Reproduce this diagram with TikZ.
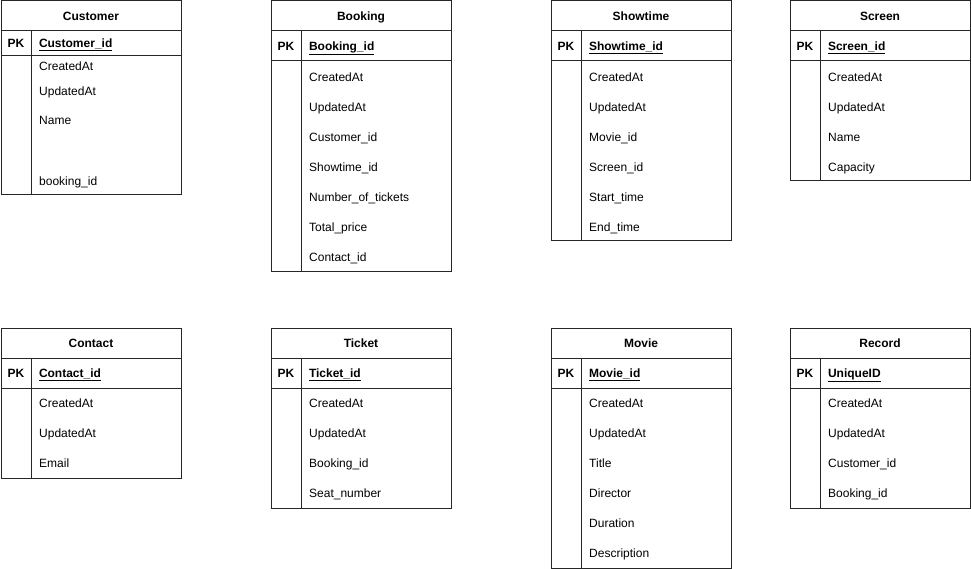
\documentclass[tikz,border=0pt]{standalone}
\usepackage{fontspec}
\setmainfont{Liberation Sans}
\usetikzlibrary{positioning,calc}
\tikzset{
  cell/.style      = {shape=rectangle, draw=black!85, line width=1pt, inner sep=0pt,
                      outer sep=0pt, anchor=north west, text height=8.6pt, text depth=0pt,
                      font=\fontsize{12pt}{14pt}\selectfont},
  tblhead/.style   = {cell, minimum width=180pt, minimum height=30pt,
                      font=\fontsize{12pt}{14pt}\selectfont\bfseries},
  pkcell/.style    = {cell, minimum width=30pt, minimum height=#1,
                      font=\fontsize{12pt}{14pt}\selectfont\bfseries},
  pkcell/.default  = 30pt,
  keycell/.style   = {cell, minimum width=150pt, minimum height=#1, text width=134pt,
                      inner xsep=8pt, align=left,
                      font=\fontsize{12pt}{14pt}\selectfont\bfseries},
  keycell/.default = 30pt,
  sidecell/.style  = {cell, minimum width=30pt},
  bodycell/.style  = {cell, minimum width=150pt},
  field/.style     = {anchor=west, inner sep=0pt, text height=8.6pt, text depth=0pt,
                      font=\fontsize{12pt}{14pt}\selectfont}
}
\begin{document}
\begin{tikzpicture}[x=1pt, y=-1pt]
  \useasboundingbox (0,0) rectangle (971,569);

  % Customer
  \node [tblhead] (cust) at (1,1) {Customer};
  \node [pkcell=25pt] (custpk) at (cust.south west) {PK};
  \node [keycell=25pt] (custkey) at (custpk.north east) {\underline{Customer\_id}};
  \node [sidecell, minimum height=139pt] (custside) at (custpk.south west) {};
  \node [bodycell, minimum height=139pt] (custbody) at (custside.north east) {};
  \node [field] (cust-1) at ($(custbody.north west)+(8,10)$) {CreatedAt};
  \node [field] (cust-2) at ($(custbody.north west)+(8,35)$) {UpdatedAt};
  \node [field] (cust-3) at ($(custbody.north west)+(8,64)$) {Name};
  \node [field] (cust-4) at ($(custbody.north west)+(8,125)$) {booking\_id};

  % Booking
  \node [tblhead] (book) at (271,1) {Booking};
  \node [pkcell] (bookpk) at (book.south west) {PK};
  \node [keycell] (bookkey) at (bookpk.north east) {\underline{Booking\_id}};
  \node [sidecell, minimum height=210pt] (bookside) at (bookpk.south west) {};
  \node [bodycell, minimum height=210pt] (bookbody) at (bookside.north east) {};
  \foreach \f [count=\i] in {CreatedAt, UpdatedAt, Customer\_id, Showtime\_id,
                             Number\_of\_tickets, Total\_price, Contact\_id}
    \node [field] (book-\i) at ($(bookbody.north west)+(8,{16+30*(\i-1)})$) {\f};

  % Showtime
  \node [tblhead] (show) at (551,1) {Showtime};
  \node [pkcell] (showpk) at (show.south west) {PK};
  \node [keycell] (showkey) at (showpk.north east) {\underline{Showtime\_id}};
  \node [sidecell, minimum height=180pt] (showside) at (showpk.south west) {};
  \node [bodycell, minimum height=180pt] (showbody) at (showside.north east) {};
  \foreach \f [count=\i] in {CreatedAt, UpdatedAt, Movie\_id, Screen\_id,
                             Start\_time, End\_time}
    \node [field] (show-\i) at ($(showbody.north west)+(8,{16+30*(\i-1)})$) {\f};

  % Screen
  \node [tblhead] (scrn) at (790,1) {Screen};
  \node [pkcell] (scrnpk) at (scrn.south west) {PK};
  \node [keycell] (scrnkey) at (scrnpk.north east) {\underline{Screen\_id}};
  \node [sidecell, minimum height=120pt] (scrnside) at (scrnpk.south west) {};
  \node [bodycell, minimum height=120pt] (scrnbody) at (scrnside.north east) {};
  \foreach \f [count=\i] in {CreatedAt, UpdatedAt, Name, Capacity}
    \node [field] (scrn-\i) at ($(scrnbody.north west)+(8,{16+30*(\i-1)})$) {\f};

  % Contact
  \node [tblhead] (cont) at (1,328) {Contact};
  \node [pkcell] (contpk) at (cont.south west) {PK};
  \node [keycell] (contkey) at (contpk.north east) {\underline{Contact\_id}};
  \node [sidecell, minimum height=90pt] (contside) at (contpk.south west) {};
  \node [bodycell, minimum height=90pt] (contbody) at (contside.north east) {};
  \foreach \f [count=\i] in {CreatedAt, UpdatedAt, Email}
    \node [field] (cont-\i) at ($(contbody.north west)+(8,{15+30*(\i-1)})$) {\f};

  % Ticket
  \node [tblhead] (tick) at (271,328) {Ticket};
  \node [pkcell] (tickpk) at (tick.south west) {PK};
  \node [keycell] (tickkey) at (tickpk.north east) {\underline{Ticket\_id}};
  \node [sidecell, minimum height=120pt] (tickside) at (tickpk.south west) {};
  \node [bodycell, minimum height=120pt] (tickbody) at (tickside.north east) {};
  \foreach \f [count=\i] in {CreatedAt, UpdatedAt, Booking\_id, Seat\_number}
    \node [field] (tick-\i) at ($(tickbody.north west)+(8,{15+30*(\i-1)})$) {\f};

  % Movie
  \node [tblhead] (movi) at (551,328) {Movie};
  \node [pkcell] (movipk) at (movi.south west) {PK};
  \node [keycell] (movikey) at (movipk.north east) {\underline{Movie\_id}};
  \node [sidecell, minimum height=180pt] (moviside) at (movipk.south west) {};
  \node [bodycell, minimum height=180pt] (movibody) at (moviside.north east) {};
  \foreach \f [count=\i] in {CreatedAt, UpdatedAt, Title, Director, Duration, Description}
    \node [field] (movi-\i) at ($(movibody.north west)+(8,{15+30*(\i-1)})$) {\f};

  % Record
  \node [tblhead] (reco) at (790,328) {Record};
  \node [pkcell] (recopk) at (reco.south west) {PK};
  \node [keycell] (recokey) at (recopk.north east) {\underline{UniqueID}};
  \node [sidecell, minimum height=120pt] (recoside) at (recopk.south west) {};
  \node [bodycell, minimum height=120pt] (recobody) at (recoside.north east) {};
  \foreach \f [count=\i] in {CreatedAt, UpdatedAt, Customer\_id, Booking\_id}
    \node [field] (reco-\i) at ($(recobody.north west)+(8,{15+30*(\i-1)})$) {\f};
\end{tikzpicture}
\end{document}
